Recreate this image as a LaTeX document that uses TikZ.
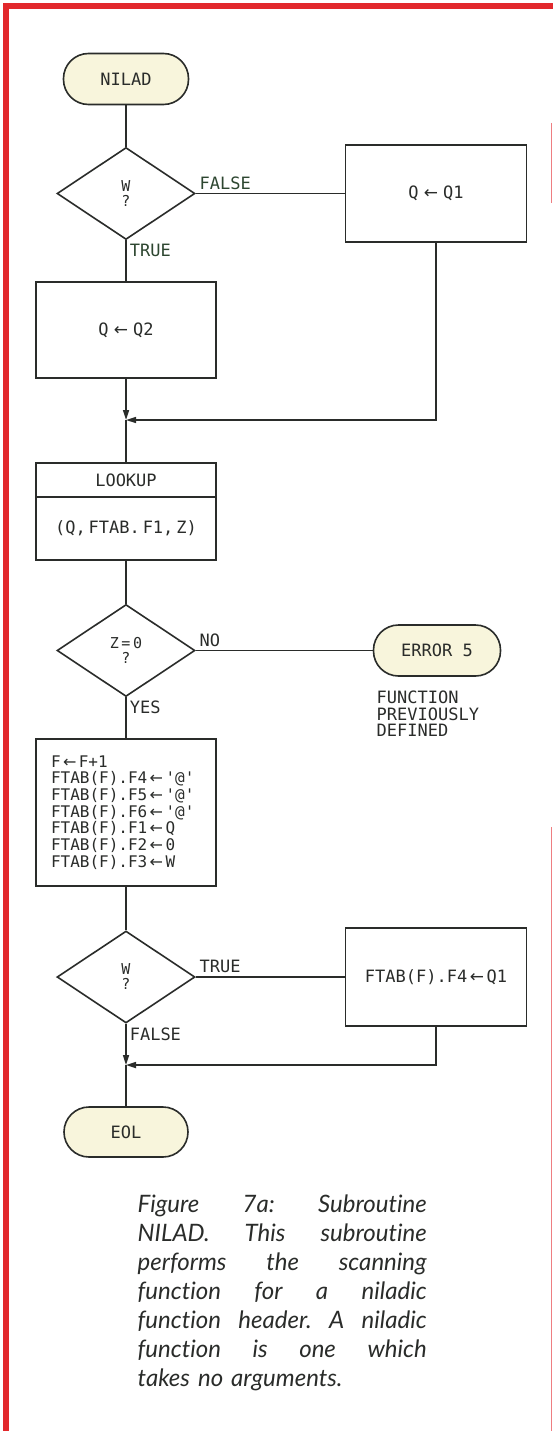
\documentclass[tikz,border=0pt]{standalone}
\usepackage{fontspec}
\setmainfont{DejaVu Sans Mono}
\newfontfamily\arrowfont{DejaVu Sans}
\newfontfamily\captionfont[Ligatures=NoCommon]{Lato}
\usepackage{tikz}
\usetikzlibrary{arrows.meta,shapes.geometric}
\usepackage{xcolor}
\definecolor{ChartInk}{HTML}{2A2C2A}
\definecolor{ChartGreen}{HTML}{2D4630}
\definecolor{TermFill}{HTML}{F8F5DC}
\definecolor{FrameRed}{HTML}{E2282C}
\newcommand{\asgn}[1][0.15em]{\hspace{#1}{\arrowfont ←}\hspace{#1}}
\newcommand{\atq}{\textquotesingle @\textquotesingle}
\newcommand{\capline}[1]{\leavevmode\hbox to 289pt{#1}}
\frenchspacing

\begin{document}
\begin{tikzpicture}[x=1pt,y=-1pt,>={Triangle[length=10pt,width=6pt]},
  flowline/.style={draw=ChartInk,line width=1.6pt},
  term/.style={flowline,fill=TermFill,rounded corners=25pt,minimum width=125pt,
    minimum height=51pt,text=ChartInk,font=\fontsize{17}{20}\selectfont},
  test/.style={flowline,diamond,minimum width=138pt,minimum height=92pt,inner sep=0pt,
    align=center,text=ChartInk,font=\fontsize{15}{15}\selectfont},
  proc/.style={flowline,minimum width=180pt,minimum height=97pt,text=ChartInk,
    font=\fontsize{17}{20}\selectfont},
  lbl/.style={inner sep=3pt,text=ChartInk,font=\fontsize{17}{20}\selectfont}]
  \useasboundingbox (0,0) rectangle (553,1431);
  \fill[white] (0,0) rectangle (553,1431);
  \fill[FrameRed] (3,3) rectangle (553,9);
  \fill[FrameRed] (3,3) rectangle (9,1431);
  \draw[FrameRed!60,line width=1.5pt] (551.5,123)--(551.5,203) (551.5,827)--(551.5,1431);

  \node[term] (nilad) at (126,79) {NILAD};
  \node[test] (w1) at (126,193.5) {W\\?};
  \node[proc,minimum width=181pt] (q1) at (436,193.5) {Q\asgn[0.3em]Q1};
  \node[proc,minimum height=96pt] (q2) at (126,330) {Q\asgn[0.3em]Q2};
  \coordinate (join1) at (126,420);
  \node[proc,minimum height=34pt] (lookup) at (126,480) {LOOKUP};
  \node[proc,minimum height=63pt] (lookargs) at (126,528.5) {(Q,\,FTAB.\,F1,\,Z)};
  \node[test] (z0) at (126,650.5) {Z\,=\,0\\?};
  \node[term,minimum width=127pt] (err) at (437,650.5) {ERROR 5};
  \node[lbl,anchor=north west,align=left,font=\fontsize{17}{16.5}\selectfont]
    (errnote) at (373.5,688) {FUNCTION\\PREVIOUSLY\\DEFINED};
  \node[proc,minimum height=147pt,text width=150pt,inner xsep=14.5pt,align=left,
    font=\fontsize{16}{16.7}\selectfont] (setup) at (126,812.5)
    {F\asgn F+1\\FTAB(F).F4\asgn\atq\\FTAB(F).F5\asgn\atq\\FTAB(F).F6\asgn\atq\\
     FTAB(F).F1\asgn Q\\FTAB(F).F2\asgn 0\\FTAB(F).F3\asgn W};
  \node[test] (w3) at (126,977) {W\\?};
  \node[proc,minimum width=181pt,minimum height=98pt] (f4box) at (436,977) {FTAB(F).F4\asgn Q1};
  \coordinate (join2) at (126,1065);
  \node[term,minimum width=124pt,minimum height=50pt] (eol) at (126,1132) {EOL};

  \draw[flowline] (nilad) -- (w1);
  \draw[flowline] (w1.east) -- node[lbl,pos=0,anchor=south west,text=ChartGreen] {FALSE} (q1.west);
  \draw[flowline] (w1.south) -- node[lbl,pos=0,anchor=north west,text=ChartGreen] {TRUE} (q2.north);
  \draw[flowline,->] (q2.south) -- (join1);
  \draw[flowline,->] (q1.south) |- (join1);
  \draw[flowline] (join1) -- (lookup.north);
  \draw[flowline] (lookargs.south) -- (z0.north);
  \draw[flowline] (z0.east) -- node[lbl,pos=0,anchor=south west] {NO} (err.west);
  \draw[flowline] (z0.south) -- node[lbl,pos=0,anchor=north west] {YES} (setup.north);
  \draw[flowline] (setup.south) -- (w3.north);
  \draw[flowline] (w3.east) -- node[lbl,pos=0,anchor=south west] {TRUE} (f4box.west);
  \draw[flowline,->] (w3.south) -- node[lbl,pos=0,anchor=north west] {FALSE} (join2);
  \draw[flowline,->] (f4box.south) |- (join2);
  \draw[flowline] (join2) -- (eol.north);

  \node[anchor=north west,inner sep=0pt,text width=289pt,align=left,text=ChartInk,
    font=\captionfont\itshape\fontsize{24}{29}\selectfont] (caption) at (137.5,1195)
    {\capline{Figure\hfill 7a:\hfill Subroutine}\\
     \capline{NILAD.\hfill This\hfill subroutine}\\
     \capline{performs\hfill the\hfill scanning}\\
     \capline{function\hfill for\hfill a\hfill niladic}\\
     \capline{function\hfill header.\hfill A\hfill niladic}\\
     \capline{function\hfill is\hfill one\hfill which}\\
     takes no arguments.};
\end{tikzpicture}
\end{document}
